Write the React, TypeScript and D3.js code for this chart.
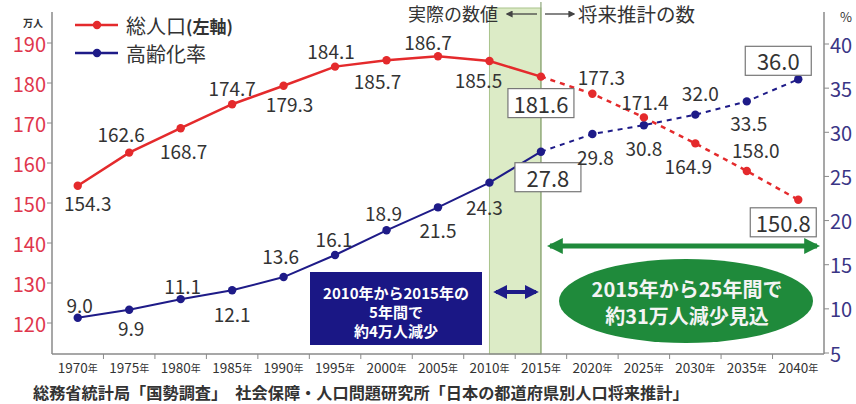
import React, { useEffect, useRef } from 'react';
import * as d3 from 'd3';

const years = ['1970', '1975', '1980', '1985', '1990', '1995', '2000', '2005', '2010', '2015', '2020', '2025', '2030', '2035', '2040'];
const population = [154.3, 162.6, 168.7, 174.7, 179.3, 184.1, 185.7, 186.7, 185.5, 181.6, 177.3, 171.4, 164.9, 158.0, 150.8];
const agingRate = [9.0, 9.9, 11.1, 12.1, 13.6, 16.1, 18.9, 21.5, 24.3, 27.8, 29.8, 30.8, 32.0, 33.5, 36.0];
const popTicks = [120, 130, 140, 150, 160, 170, 180, 190];
const rateTicks = [5, 10, 15, 20, 25, 30, 35, 40];
const lastActual = '2015';
const bandStart = '2010';
const boxedYears = ['2015', '2040'];

// label offsets from each point (text centre)
const popLabelPos = [[10, 17], [-8, -19], [3, 22], [0, -17], [6, 18], [-4, -16], [-9, 20], [-10, -15], [-11, 18], [0, 26], [9, -17], [1, -16], [-7, 22], [9, -22], [-15, 22]];
const rateLabelPos = [[2, -13], [2, 18], [2, -14], [0, 23], [-3, -22], [-1, -17], [-3, -18], [0, 22], [-5, 24], [7, 25], [3, 22], [0, 22], [5, -22], [2, 21], [-20, -19]];

const W = 856;
const H = 404;
const FONT = '"Noto Sans CJK JP", "Noto Sans", sans-serif';
const RED = '#e42a2c';
const BLUE = '#1e1b88';
const GREEN = '#1f8a3b';

export default function App() {
  const svgRef = useRef<SVGSVGElement>(null);

  useEffect(() => {
    if (!svgRef.current) return;
    const svg = d3.select(svgRef.current);
    svg.selectAll('*').remove();

    const left = 52, right = 824, top = 12, bottom = 354;

    const x = d3.scaleBand<string>().domain(years).range([left, right]);
    const cx = (y: string) => (x(y) as number) + x.bandwidth() / 2;
    const yPop = d3.scaleLinear().domain([120, 190]).range([323, 43]);
    const yRate = d3.scaleLinear().domain([5, 40]).range([353, 44]);

    svg.append('rect').attr('width', W).attr('height', H).attr('fill', '#fff');

    // green "actual" band
    svg.append('rect')
      .attr('x', cx(bandStart)).attr('y', 8)
      .attr('width', cx(lastActual) - cx(bandStart)).attr('height', bottom - 8)
      .attr('fill', '#dcebc6').attr('stroke', '#a9c48c').attr('stroke-width', 1);
    svg.append('line')
      .attr('x1', cx(lastActual)).attr('x2', cx(lastActual))
      .attr('y1', 2).attr('y2', bottom)
      .attr('stroke', '#8ea67a').attr('stroke-width', 1.2);

    const defs = svg.append('defs');
    const marker = (id: string, color: string, size: number) => {
      defs.append('marker')
        .attr('id', id).attr('viewBox', '0 0 10 10').attr('refX', 8).attr('refY', 5)
        .attr('markerWidth', size).attr('markerHeight', size).attr('orient', 'auto-start-reverse')
        .attr('markerUnits', 'userSpaceOnUse')
        .append('path').attr('d', 'M0,0 L10,5 L0,10 Z').attr('fill', color);
    };
    marker('arrGray', '#444', 7);
    marker('arrNavy', BLUE, 14);
    marker('arrGreen', GREEN, 16);

    // header
    svg.append('text').attr('x', 453).attr('y', 13).attr('text-anchor', 'middle')
      .attr('dominant-baseline', 'central').style('font-family', FONT).style('font-size', '18px')
      .attr('fill', '#333').text('実際の数値');
    svg.append('line').attr('x1', 537).attr('x2', 507).attr('y1', 14).attr('y2', 14)
      .attr('stroke', '#444').attr('stroke-width', 1.3).attr('marker-end', 'url(#arrGray)');
    svg.append('line').attr('x1', 545).attr('x2', 574).attr('y1', 14).attr('y2', 14)
      .attr('stroke', '#444').attr('stroke-width', 1.3).attr('marker-end', 'url(#arrGray)');
    svg.append('text').attr('x', 578).attr('y', 13)
      .attr('dominant-baseline', 'central').style('font-family', FONT).style('font-size', '19.5px')
      .attr('fill', '#333').text('将来推計の数');

    // axes
    const axisColor = '#8a8a8a';
    const gl = svg.append('g').attr('transform', `translate(${left},0)`);
    gl.append('line').attr('y1', top).attr('y2', bottom).attr('stroke', axisColor).attr('stroke-width', 1.5);
    popTicks.forEach(t => {
      gl.append('line').attr('x1', -5).attr('x2', 0).attr('y1', yPop(t)).attr('y2', yPop(t)).attr('stroke', axisColor);
      gl.append('text').attr('x', -6).attr('y', yPop(t)).attr('text-anchor', 'end').attr('dominant-baseline', 'central')
        .style('font-family', FONT).style('font-size', '20px').attr('fill', '#e0364c').text(t);
    });
    svg.append('text').attr('x', 33).attr('y', 22).attr('text-anchor', 'middle').attr('dominant-baseline', 'central')
      .style('font-family', FONT).style('font-size', '10px').style('font-weight', 'bold').attr('fill', '#333').text('万人');

    const gr = svg.append('g').attr('transform', `translate(${right},0)`);
    gr.append('line').attr('y1', top).attr('y2', bottom).attr('stroke', axisColor).attr('stroke-width', 1.5);
    rateTicks.forEach(t => {
      gr.append('line').attr('x1', 0).attr('x2', 5).attr('y1', yRate(t)).attr('y2', yRate(t)).attr('stroke', axisColor);
      gr.append('text').attr('x', 6).attr('y', yRate(t)).attr('dominant-baseline', 'central')
        .style('font-family', FONT).style('font-size', '20px').attr('fill', '#3a3585').text(t);
    });
    svg.append('text').attr('x', 840).attr('y', 16).attr('dominant-baseline', 'central')
      .style('font-family', FONT).style('font-size', '13px').attr('fill', '#333').text('%');

    const gb = svg.append('g');
    gb.append('line').attr('x1', left).attr('x2', right).attr('y1', bottom).attr('y2', bottom)
      .attr('stroke', axisColor).attr('stroke-width', 1.5);
    years.slice(1).forEach(yr => {
      const xx = x(yr) as number;
      gb.append('line').attr('x1', xx).attr('x2', xx).attr('y1', bottom).attr('y2', bottom + 5).attr('stroke', axisColor);
    });
    years.forEach(yr => {
      const t = gb.append('text').attr('x', cx(yr)).attr('y', 367).attr('text-anchor', 'middle')
        .attr('dominant-baseline', 'central').style('font-family', FONT).attr('fill', '#333');
      t.append('tspan').style('font-size', '13.5px').text(yr);
      t.append('tspan').style('font-size', '10px').text('年');
    });

    svg.append('text').attr('x', 33).attr('y', 392).attr('dominant-baseline', 'central')
      .style('font-family', FONT).style('font-size', '16.2px').style('font-weight', 'bold').attr('fill', '#333')
      .text('総務省統計局「国勢調査」　社会保障・人口問題研究所「日本の都道府県別人口将来推計」');

    // annotations
    svg.append('rect').attr('x', 310).attr('y', 272).attr('width', 172).attr('height', 73).attr('fill', '#1a1785');
    ['2010年から2015年の', '5年間で', '約4万人減少'].forEach((s, i) => {
      svg.append('text').attr('x', 396).attr('y', 292 + i * 19).attr('text-anchor', 'middle').attr('dominant-baseline', 'central')
        .style('font-family', FONT).style('font-size', '15px').style('font-weight', 'bold').attr('fill', '#fff').text(s);
    });
    svg.append('line').attr('x1', 496).attr('x2', 536).attr('y1', 292).attr('y2', 292)
      .attr('stroke', BLUE).attr('stroke-width', 4)
      .attr('marker-start', 'url(#arrNavy)').attr('marker-end', 'url(#arrNavy)');

    svg.append('line').attr('x1', 550).attr('x2', 817).attr('y1', 246).attr('y2', 246)
      .attr('stroke', GREEN).attr('stroke-width', 5)
      .attr('marker-start', 'url(#arrGreen)').attr('marker-end', 'url(#arrGreen)');
    svg.append('ellipse').attr('cx', 686).attr('cy', 301).attr('rx', 127).attr('ry', 42).attr('fill', GREEN);
    ['2015年から25年間で', '約31万人減少見込'].forEach((s, i) => {
      svg.append('text').attr('x', 687).attr('y', 288 + i * 27).attr('text-anchor', 'middle').attr('dominant-baseline', 'central')
        .style('font-family', FONT).style('font-size', '20px').style('font-weight', 'bold').attr('fill', '#f4f4f4').text(s);
    });

    // series
    const splitIdx = years.indexOf(lastActual);
    const drawSeries = (vals: number[], y: d3.ScaleLinear<number, number>, color: string, width: number) => {
      const pts: [number, number][] = vals.map((v, i) => [cx(years[i]), y(v)]);
      const line = d3.line();
      svg.append('path').attr('d', line(pts.slice(0, splitIdx + 1)) || '')
        .attr('fill', 'none').attr('stroke', color).attr('stroke-width', width);
      svg.append('path').attr('d', line(pts.slice(splitIdx)) || '')
        .attr('fill', 'none').attr('stroke', color).attr('stroke-width', width).attr('stroke-dasharray', '5,5');
      svg.append('g').selectAll('circle').data(pts).join('circle')
        .attr('cx', d => d[0]).attr('cy', d => d[1]).attr('r', 4.2).attr('fill', color);
    };
    drawSeries(agingRate, yRate, BLUE, 2);
    drawSeries(population, yPop, RED, 2.5);

    const drawLabels = (vals: number[], y: d3.ScaleLinear<number, number>, pos: number[][]) => {
      vals.forEach((v, i) => {
        const px = cx(years[i]) + pos[i][0];
        const py = y(v) + pos[i][1];
        const boxed = boxedYears.includes(years[i]);
        if (boxed) {
          svg.append('rect').attr('x', px - 33).attr('y', py - 14).attr('width', 66).attr('height', 29)
            .attr('fill', '#fff').attr('stroke', '#777').attr('stroke-width', 1.2);
        }
        svg.append('text').attr('x', px).attr('y', py).attr('text-anchor', 'middle').attr('dominant-baseline', 'central')
          .style('font-family', FONT).style('font-size', boxed ? '22px' : '19px').attr('fill', '#333')
          .text(v.toFixed(1));
      });
    };
    drawLabels(population, yPop, popLabelPos);
    drawLabels(agingRate, yRate, rateLabelPos);

    // legend
    const legend = [
      { label: '総人口', sub: '(左軸)', color: RED, y: 25 },
      { label: '高齢化率', sub: '', color: BLUE, y: 53 },
    ];
    legend.forEach(l => {
      svg.append('line').attr('x1', 75).attr('x2', 118).attr('y1', l.y).attr('y2', l.y)
        .attr('stroke', l.color).attr('stroke-width', 2.5);
      svg.append('circle').attr('cx', 97).attr('cy', l.y).attr('r', 4.2).attr('fill', l.color);
      const t = svg.append('text').attr('x', 126).attr('y', l.y).attr('dominant-baseline', 'central')
        .style('font-family', FONT).attr('fill', '#333');
      t.append('tspan').style('font-size', '20px').text(l.label);
      if (l.sub) t.append('tspan').style('font-size', '17px').style('font-weight', 'bold').text(l.sub);
    });
  }, []);

  return <svg ref={svgRef} width={W} height={H} style={{ position: 'absolute', left: 0, top: 0 }} />;
}
